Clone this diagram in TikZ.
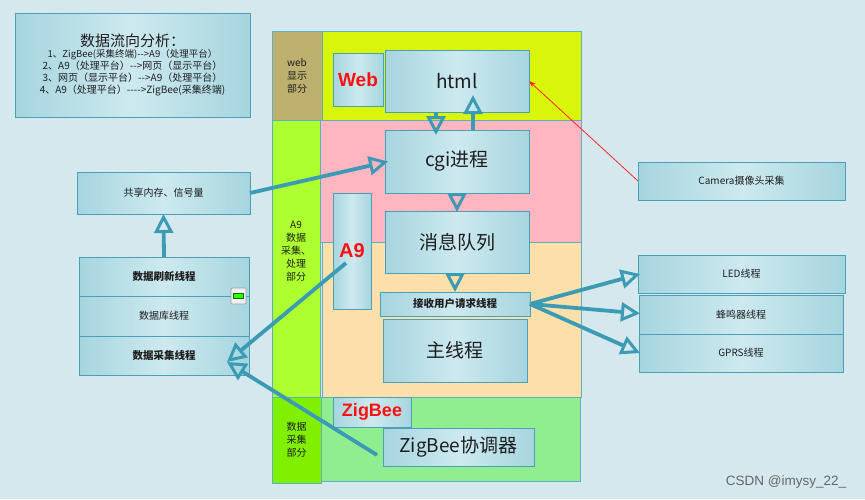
\documentclass[tikz,border=0pt]{standalone}
\usepackage{fontspec}
\setmainfont{Noto Sans CJK SC}[Ligatures=TeXOff]
\newfontfamily\arialf{Liberation Sans}
\usetikzlibrary{arrows.meta,calc}
\definecolor{bgc}{HTML}{D5E8EE}
\definecolor{bordc}{HTML}{4AA0B9}
\definecolor{regc}{HTML}{5FAFC4}
\definecolor{boxedge}{HTML}{A6D5DF}
\definecolor{boxmid}{HTML}{CDE9EF}
\definecolor{arrc}{HTML}{3C9BB4}
\definecolor{tanc}{HTML}{BEB06E}
\definecolor{yelc}{HTML}{D8F50A}
\definecolor{pinkc}{HTML}{FFB6C1}
\definecolor{lgc}{HTML}{ADFF2F}
\definecolor{orc}{HTML}{FDDFAA}
\definecolor{dgc}{HTML}{80F000}
\definecolor{ltgc}{HTML}{90EE90}
\definecolor{txtc}{HTML}{1E1E1E}
\definecolor{redc}{HTML}{FF1010}
\tikzset{
  box/.style={draw=bordc, line width=0.8pt, left color=boxedge, right color=boxedge, middle color=boxmid,
    inner sep=0pt, outer sep=0pt, anchor=north west, align=center, text=txtc},
  region/.style={draw=regc, line width=0.7pt, inner sep=0pt, outer sep=0pt, anchor=north west, align=center, text=txtc},
  fat/.style={draw=arrc, line width=3.8pt, -{Triangle[open, length=19pt, width=19pt, line width=3pt]}},
  bigtxt/.style={font=\fontsize{19}{22}\selectfont},
  smalltxt/.style={font=\fontsize{10}{12}\selectfont},
  striptxt/.style={font=\fontsize{10}{13}\selectfont},
  redlab/.style={text=redc, font=\arialf\bfseries\fontsize{19}{22}\selectfont},
}
\begin{document}
\begin{tikzpicture}[x=1pt,y=-1pt]
\fill[bgc] (0,0) rectangle (865,499);
\useasboundingbox (0,0) rectangle (865,499);

% info box
\node[box, minimum width=235, minimum height=104] (info) at (15,13)
 {\fontsize{15}{19}\selectfont 数据流向分析：\\[-1pt]
  \fontsize{9.5}{14}\selectfont 1、ZigBee(采集终端)-->A9（处理平台）\\
  2、A9（处理平台）-->网页（显示平台）\\
  3、网页（显示平台）-->A9（处理平台）\\
  4、A9（处理平台）---->ZigBee(采集终端)};

% regions
\node[region, fill=tanc, striptxt, minimum width=50, minimum height=89] (rweb) at (272,31) {web\\显示\\部分};
\node[region, fill=yelc, minimum width=259, minimum height=89] (ryel) at (322,31) {};
\node[region, fill=lgc, striptxt, minimum width=48, minimum height=277] (ra9) at (272,120) {};
\node[striptxt, text=txtc, align=center] (ra9t) at (296,251) {A9\\数据\\采集、\\处理\\部分};
\node[region, fill=pinkc, minimum width=261, minimum height=122] (rpink) at (320,120) {};
\node[region, fill=orc, minimum width=259, minimum height=155] (ror) at (322,242) {};
\node[region, fill=dgc, striptxt, minimum width=49, minimum height=86] (rzb) at (272,397) {数据\\采集\\部分};
\node[region, fill=ltgc, minimum width=259, minimum height=84] (rltg) at (321,397) {};

% boxes in the middle
\node[box, redlab, minimum width=50, minimum height=53] (web) at (333,53) {Web};
\node[box, bigtxt, minimum width=144, minimum height=62] (html) at (385,50) {html};
\node[box, bigtxt, minimum width=144, minimum height=63] (cgi) at (385,130) {cgi进程};
\node[box, redlab, font=\arialf\bfseries\fontsize{20}{22}\selectfont, minimum width=38, minimum height=116] (a9) at (333,193) {A9};
\node[box, bigtxt, minimum width=144, minimum height=62] (msgq) at (385,211) {消息队列};
\node[box, font=\bfseries\fontsize{10.5}{12}\selectfont, minimum width=150, minimum height=24] (recv) at (380,292) {接收用户请求线程};
\node[box, bigtxt, minimum width=144, minimum height=63] (mainth) at (383,319) {主线程};
\node[box, redlab, font=\arialf\bfseries\fontsize{18}{20}\selectfont, minimum width=78, minimum height=30] (zb) at (333,397) {ZigBee};
\node[box, bigtxt, minimum width=151, minimum height=38] (coord) at (383,428) {ZigBee协调器};

% left boxes
\node[box, smalltxt, minimum width=173, minimum height=42] (shm) at (77,172) {共享内存、信号量};
\node[box, font=\bfseries\fontsize{10.5}{12}\selectfont, minimum width=170, minimum height=39] (refresh) at (79,257) {数据刷新线程};
\node[box, smalltxt, minimum width=170, minimum height=40] (db) at (79,296) {数据库线程};
\node[box, font=\bfseries\fontsize{10.5}{12}\selectfont, minimum width=170, minimum height=39] (collect) at (79,336) {数据采集线程};

% small icon
\draw[draw=gray!75, fill=gray!12, line width=0.7pt, rounded corners=1pt] (231,288) rectangle (246,304);
\draw[draw=green!45!black, fill=green!75!lime, line width=0.5pt] (233.5,293) rectangle (243.5,298.5);

% right boxes
\node[box, smalltxt, minimum width=207, minimum height=38] (camera) at (638,162) {Camera摄像头采集};
\node[box, smalltxt, minimum width=207, minimum height=38] (led) at (638,255) {LED线程};
\node[box, smalltxt, minimum width=204, minimum height=39] (buzz) at (639,295) {蜂鸣器线程};
\node[box, smalltxt, minimum width=204, minimum height=38] (gprs) at (639,334) {GPRS线程};

% connectors
\draw[fat] ([xshift=-21pt]html.south) -- ([xshift=-21pt,yshift=-5pt]cgi.north);
\draw[fat] ([xshift=16pt]cgi.north) -- ([xshift=16pt,yshift=17pt]html.south);
\draw[fat] (cgi.south) -- ([yshift=-1pt]msgq.north);
\draw[fat] (recv.north |- msgq.south) -- (recv.north);
\draw[fat] (shm.east) -- ([xshift=3pt]cgi.west);
\draw[fat] (refresh.north) -- (shm.south);
\draw[fat] ([xshift=-6pt,yshift=-12pt]a9.center) -- ([xshift=-22pt,yshift=-6.5pt]collect.east);
\draw[fat] ([xshift=-6pt,yshift=-8pt]coord.west) -- ([xshift=-22pt,yshift=-6.5pt]collect.east);
\draw[fat] (recv.east) -- ([xshift=2pt]led.west);
\draw[fat] (recv.east) -- ([xshift=1pt,yshift=1pt]buzz.west);
\draw[fat] (recv.east) -- ([xshift=1pt]gprs.west);
\draw[draw=red!85!white, line width=0.8pt, -{Stealth[length=7pt,width=5pt]}] (camera.west) -- (html.east);

% watermark
\node[text=gray!80!black, font=\arialf\fontsize{13.5}{15}\selectfont] (wm) at (786,482) {CSDN @imysy\_22\_};
\end{tikzpicture}
\end{document}
